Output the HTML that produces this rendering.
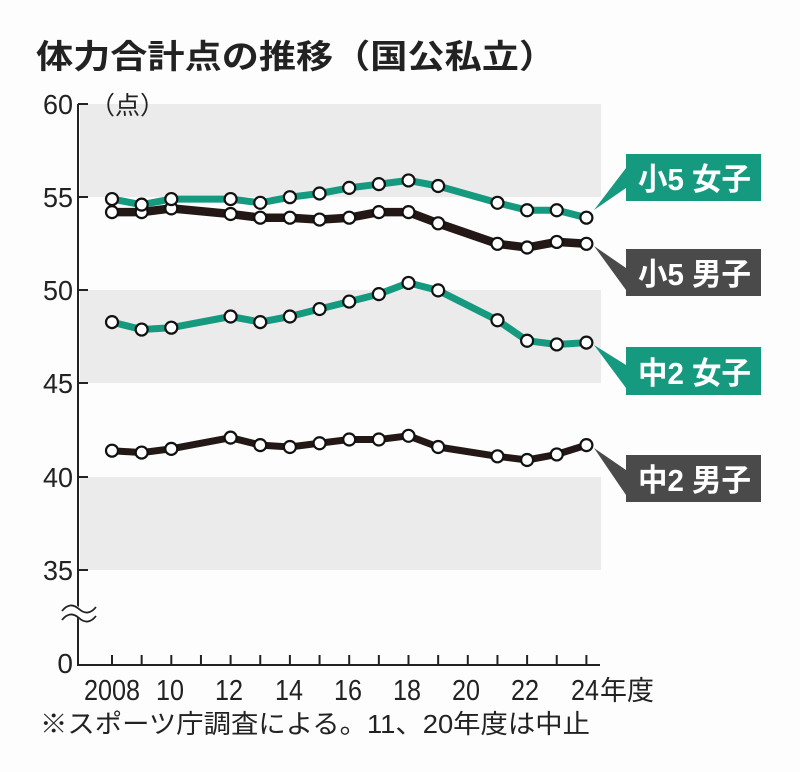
<!DOCTYPE html>
<html><head><meta charset="utf-8">
<style>
html,body{margin:0;padding:0;background:#fff;}
svg{display:block;}
text{font-family:"Liberation Sans","Noto Sans CJK JP",sans-serif;}
</style></head>
<body>
<svg id="c" width="800" height="772" viewBox="0 0 800 772" xmlns="http://www.w3.org/2000/svg">
<rect width="800" height="772" fill="#fdfdfd"/>
<text x="36" y="68" font-size="33" font-weight="bold" fill="#222" textLength="520" lengthAdjust="spacingAndGlyphs">体力合計点の推移（国公私立）</text>
<rect x="80" y="104" width="521" height="93" fill="#ebebeb"/>
<rect x="80" y="290" width="521" height="93" fill="#ebebeb"/>
<rect x="80" y="477" width="521" height="93" fill="#ebebeb"/>
<g stroke="#222" stroke-width="2" fill="none">
<line x1="78" y1="104" x2="78" y2="665"/>
<line x1="77" y1="665" x2="600" y2="665"/>
<line x1="78" y1="104" x2="88" y2="104"/>
<line x1="78" y1="197" x2="88" y2="197"/>
<line x1="78" y1="290" x2="88" y2="290"/>
<line x1="78" y1="383" x2="88" y2="383"/>
<line x1="78" y1="477" x2="88" y2="477"/>
<line x1="78" y1="570" x2="88" y2="570"/>
</g>
<path d="M62 615 q8 -12 17 -2 t17 -2" stroke="#fff" stroke-width="9" fill="none"/>
<path d="M62 611 q8 -10 17 -2 t17 -2 M62 620 q8 -10 17 -2 t17 -2" stroke="#222" stroke-width="1.8" fill="none"/>
<g font-size="28" fill="#222" text-anchor="end">
<text x="73" y="114" textLength="30" lengthAdjust="spacingAndGlyphs">60</text><text x="73" y="207" textLength="30" lengthAdjust="spacingAndGlyphs">55</text><text x="73" y="300" textLength="30" lengthAdjust="spacingAndGlyphs">50</text>
<text x="73" y="393" textLength="30" lengthAdjust="spacingAndGlyphs">45</text><text x="73" y="487" textLength="30" lengthAdjust="spacingAndGlyphs">40</text><text x="73" y="580" textLength="30" lengthAdjust="spacingAndGlyphs">35</text>
<text x="73" y="673">0</text>
</g>
<text x="90" y="114" font-size="25" fill="#222">（点）</text>
<g id="ticks" stroke="#222" stroke-width="2"></g>
<g font-size="29" fill="#222" text-anchor="middle">
<text x="112" y="700" textLength="56" lengthAdjust="spacingAndGlyphs">2008</text><text x="170" y="700" textLength="28" lengthAdjust="spacingAndGlyphs">10</text><text x="229" y="700" textLength="28" lengthAdjust="spacingAndGlyphs">12</text>
<text x="289" y="700" textLength="28" lengthAdjust="spacingAndGlyphs">14</text><text x="348" y="700" textLength="28" lengthAdjust="spacingAndGlyphs">16</text><text x="407" y="700" textLength="28" lengthAdjust="spacingAndGlyphs">18</text>
<text x="466" y="700" textLength="28" lengthAdjust="spacingAndGlyphs">20</text><text x="525" y="700" textLength="28" lengthAdjust="spacingAndGlyphs">22</text><text x="585" y="700" textLength="28" lengthAdjust="spacingAndGlyphs">24</text>
</g>
<text x="600" y="700" font-size="27" fill="#222">年度</text>
<text x="40" y="733" font-size="26" fill="#222" textLength="550" lengthAdjust="spacingAndGlyphs">※スポーツ庁調査による。11、20年度は中止</text>
<g id="series"></g>
<g font-size="31" font-weight="bold" fill="#fff">
<polygon points="594,210 626,168 626,188" fill="#159a7f"/>
<rect x="626" y="154" width="135" height="47" fill="#159a7f"/>
<text x="638" y="190" textLength="113" lengthAdjust="spacingAndGlyphs">小5 女子</text>
<polygon points="594,246 626,268 626,290" fill="#4a4a4a"/>
<rect x="626" y="249" width="135" height="47" fill="#4a4a4a"/>
<text x="638" y="285" textLength="113" lengthAdjust="spacingAndGlyphs">小5 男子</text>
<polygon points="594,345 626,365 626,388" fill="#159a7f"/>
<rect x="626" y="347" width="135" height="48" fill="#159a7f"/>
<text x="638" y="384" textLength="113" lengthAdjust="spacingAndGlyphs">中2 女子</text>
<polygon points="594,448 626,470 626,495" fill="#4a4a4a"/>
<rect x="626" y="455" width="135" height="47" fill="#4a4a4a"/>
<text x="638" y="491" textLength="113" lengthAdjust="spacingAndGlyphs">中2 男子</text>
</g>
</svg>
<script>
var NS="http://www.w3.org/2000/svg";
function X(yr){return 112+(yr-2008)*29.65;}
function Y(v){return 104+(60-v)*18.64;}
var t=document.getElementById("ticks");
for(var yr=2008;yr<=2024;yr++){var l=document.createElementNS(NS,"line");l.setAttribute("x1",X(yr));l.setAttribute("x2",X(yr));l.setAttribute("y1",655);l.setAttribute("y2",665);t.appendChild(l);}
var yrs=[2008,2009,2010,2012,2013,2014,2015,2016,2017,2018,2019,2021,2022,2023,2024];
var S=[
{c:"#231815",w:8.5,d:[54.2,54.2,54.4,54.1,53.9,53.9,53.8,53.9,54.2,54.2,53.6,52.5,52.3,52.6,52.5]},
{c:"#159a7f",w:7,d:[54.9,54.6,54.9,54.9,54.7,55.0,55.2,55.5,55.7,55.9,55.6,54.7,54.3,54.3,53.9]},
{c:"#159a7f",w:7,d:[48.3,47.9,48.0,48.6,48.3,48.6,49.0,49.4,49.8,50.4,50.0,48.4,47.3,47.1,47.2]},
{c:"#231815",w:7,d:[41.4,41.3,41.5,42.1,41.7,41.6,41.8,42.0,42.0,42.2,41.6,41.1,40.9,41.2,41.7]}];
var g=document.getElementById("series");
S.forEach(function(s){
 var p=s.d.map(function(v,i){return X(yrs[i]).toFixed(1)+","+Y(v).toFixed(1);}).join(" ");
 var pl=document.createElementNS(NS,"polyline");pl.setAttribute("points",p);pl.setAttribute("fill","none");pl.setAttribute("stroke",s.c);pl.setAttribute("stroke-width",s.w);pl.setAttribute("stroke-linejoin","round");g.appendChild(pl);
});
S.forEach(function(s){
 s.d.forEach(function(v,i){var c=document.createElementNS(NS,"circle");c.setAttribute("cx",X(yrs[i]));c.setAttribute("cy",Y(v));c.setAttribute("r",6);c.setAttribute("fill","#fff");c.setAttribute("stroke","#111");c.setAttribute("stroke-width",2.2);g.appendChild(c);});
});
</script>
</body></html>
